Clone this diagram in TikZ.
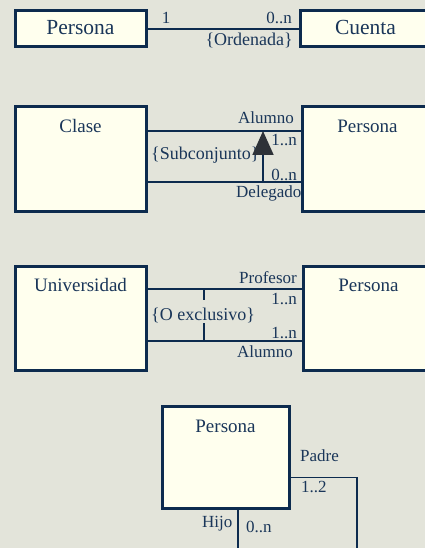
\documentclass[tikz,border=0pt]{standalone}
\usepackage{fontspec}
\setmainfont{Liberation Serif}
\usetikzlibrary{arrows.meta,calc}
\definecolor{paper}{HTML}{E3E4DA}
\definecolor{boxfill}{HTML}{FFFFEE}
\definecolor{ink}{HTML}{0D2B4E}
\definecolor{txt}{HTML}{1A3659}
\definecolor{headfill}{HTML}{2E3238}
\tikzset{
  classbox/.style={draw=ink, fill=boxfill, line width=3pt, anchor=north west, inner sep=0pt},
  link/.style={draw=ink, line width=1.8pt},
  bigtitle/.style={text=txt, inner sep=0pt, anchor=base, font=\fontsize{21.5}{24}\selectfont},
  title/.style={text=txt, inner sep=0pt, anchor=base, font=\fontsize{19}{22}\selectfont},
  role/.style={text=txt, inner sep=0pt, font=\fontsize{17}{20}\selectfont},
  cons/.style={text=txt, inner sep=0pt, font=\fontsize{18}{21}\selectfont},
}
\begin{document}
\begin{tikzpicture}[x=1pt, y=-1pt]
\useasboundingbox[fill=paper] (0,0) rectangle (425,548);

% --- Persona 1 -- 0..n Cuenta {Ordenada}
\node[role, anchor=base] (one) at (166,24) {1};
\node[role, anchor=base east] (many1) at (292,24) {0..n};
\node[cons, anchor=base east] (ord) at (293,46) {\{Ordenada\}};
\node[classbox, minimum width=131pt, minimum height=36pt] (pers1) at (13.5,9.5) {};
\node[classbox, minimum width=131pt, minimum height=36pt] (cuenta) at (298.5,9.5) {};
\node[bigtitle] (pers1t) at (pers1.center |- 0,35) {Persona};
\node[bigtitle] (cuentat) at (cuenta.center |- 0,35) {Cuenta};
\draw[link] (pers1.east) -- (cuenta.west);

% --- Clase / Persona with {Subconjunto}
\node[role, anchor=base east] (alumno) at (294,124) {Alumno};
\node[role, anchor=base east] (m21) at (297,146) {1..n};
\node[cons, anchor=base west] (subc) at (151,160) {\{Subconjunto\}};
\node[role, anchor=base east] (m22) at (297,180) {0..n};
\node[role, anchor=base west] (deleg) at (236,197) {Delegado};
\node[classbox, minimum width=131pt, minimum height=104pt] (clase) at (13.5,105.5) {};
\node[classbox, minimum width=131pt, minimum height=104pt] (pers2) at (300.5,105.5) {};
\node[title] (claset) at (clase.center |- 0,133) {Clase};
\node[title] (pers2t) at (pers2.center |- 0,133) {Persona};
\coordinate (subtop) at (263,131);
\coordinate (subbot) at (263,182);
\draw[link] (clase.east |- subtop) -- (pers2.west |- subtop);
\draw[link] (clase.east |- subbot) -- (pers2.west |- subbot);
\draw[link, -{Triangle[length=24pt,width=21pt,fill=headfill,color=headfill]}] (subbot) -- (subtop);

% --- Universidad / Persona with {O exclusivo}
\node[role, anchor=base east] (prof) at (297,283) {Profesor};
\node[role, anchor=base east] (m31) at (297,304) {1..n};
\node[cons, anchor=base west] (oex) at (151,320) {\{O exclusivo\}};
\node[role, anchor=base east] (m32) at (297,338) {1..n};
\node[role, anchor=base west] (alumno2) at (237,357) {Alumno};
\node[classbox, minimum width=131pt, minimum height=104pt] (univ) at (13.5,264.5) {};
\node[classbox, minimum width=131pt, minimum height=104pt] (pers3) at (301.5,264.5) {};
\node[title] (univt) at (univ.center |- 0,291) {Universidad};
\node[title] (pers3t) at (pers3.center |- 0,291) {Persona};
\coordinate (xtop) at (204,289);
\coordinate (xbot) at (204,341);
\draw[link] (univ.east |- xtop) -- (pers3.west |- xtop);
\draw[link] (univ.east |- xbot) -- (pers3.west |- xbot);
\draw[draw=ink, line width=1.3pt] (xtop) -- (204,300);
\draw[draw=ink, line width=1.3pt] (204,323) -- (xbot);

% --- Persona self association Padre / Hijo
\node[role, anchor=base west] (padre) at (300,461) {Padre};
\node[role, anchor=base west] (m41) at (301,492) {1..2};
\node[role, anchor=base west] (hijo) at (202,527) {Hijo};
\node[role, anchor=base west] (m42) at (246,532) {0..n};
\node[classbox, minimum width=127pt, minimum height=102pt] (pers4) at (160.5,404.5) {};
\node[title] (pers4t) at (pers4.center |- 0,432) {Persona};
\coordinate (loopr) at (357,570);
\coordinate (loopl) at (238,570);
\draw[link] ([yshift=-73pt]pers4.north east) -| (loopr);
\draw[link] (pers4.south -| loopl) -- (loopl);
\end{tikzpicture}
\end{document}
